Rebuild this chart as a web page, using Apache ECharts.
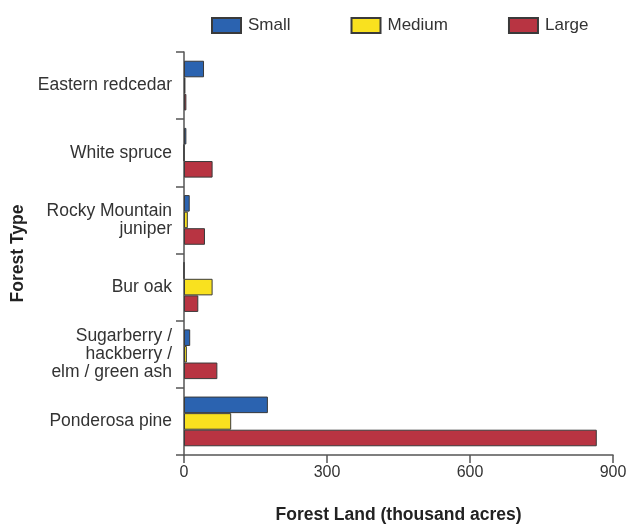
<!DOCTYPE html>
<html>
<head>
<meta charset="utf-8">
<script src="https://cdn.jsdelivr.net/npm/echarts@6/dist/echarts.min.js"></script>
</head>
<body style="margin:0;background:#fff;">
<div id="forest" style="width:630px;height:524px;"></div>
<script>
// forest types, top to bottom
var forestTypes = ['Eastern redcedar', 'White spruce', 'Rocky Mountain\njuniper', 'Bur oak',
                   'Sugarberry /\nhackberry /\nelm / green ash', 'Ponderosa pine'];
// forest land, thousand acres
var smallVals  = [42, 5, 12, 0, 13, 176];
var mediumVals = [3, 0, 8, 60, 6, 99];
var largeVals  = [5, 60, 44, 30, 70, 866];
var xTicks = [0, 300, 600, 900];

var chart = echarts.init(document.getElementById('forest'));
var font = 'Arial, "Liberation Sans", sans-serif';

function bar(name, data, color) {
  return {
    name: name,
    type: 'bar',
    data: data,
    barGap: '0%',
    barCategoryGap: '26%',
    itemStyle: { color: color, borderColor: '#3a3a3a', borderWidth: 1 }
  };
}

var option = {
  backgroundColor: '#fff',
  animation: false,
  legend: {
    data: ['Small', 'Medium', 'Large'],
    left: 206,
    top: 12,
    itemWidth: 29,
    itemHeight: 15,
    itemGap: 60,
    icon: 'rect',
    textStyle: { fontFamily: font, fontSize: 17, color: '#333', padding: [0, 0, 0, 2] }
  },
  grid: { left: 184, right: 17, top: 52, bottom: 69, outerBoundsMode: 'none' },
  xAxis: {
    type: 'value',
    min: 0,
    max: xTicks[xTicks.length - 1],
    interval: 300,
    name: 'Forest Land (thousand acres)',
    nameLocation: 'middle',
    nameGap: 51,
    nameTextStyle: { fontFamily: font, fontSize: 17.5, fontWeight: 'bold', color: '#222' },
    axisLine: { show: true, lineStyle: { color: '#555', width: 1.5 } },
    axisTick: { show: true, length: 8, lineStyle: { color: '#555', width: 1.5 } },
    axisLabel: { fontFamily: font, fontSize: 16, color: '#333', margin: 10 },
    splitLine: { show: false }
  },
  yAxis: {
    type: 'category',
    inverse: true,
    data: forestTypes,
    name: 'Forest Type',
    nameLocation: 'middle',
    nameGap: 157,
    nameTextStyle: { fontFamily: font, fontSize: 17.5, fontWeight: 'bold', color: '#222' },
    axisLine: { show: true, lineStyle: { color: '#555', width: 1.5 } },
    axisTick: { show: true, length: 8, lineStyle: { color: '#555', width: 1.5 } },
    axisLabel: { fontFamily: font, fontSize: 17.5, color: '#333', margin: 12, lineHeight: 18 }
  },
  series: [
    bar('Small', smallVals, '#2b63b0'),
    bar('Medium', mediumVals, '#f9e11f'),
    bar('Large', largeVals, '#b83442')
  ]
};
chart.setOption(option);
</script>
</body>
</html>
